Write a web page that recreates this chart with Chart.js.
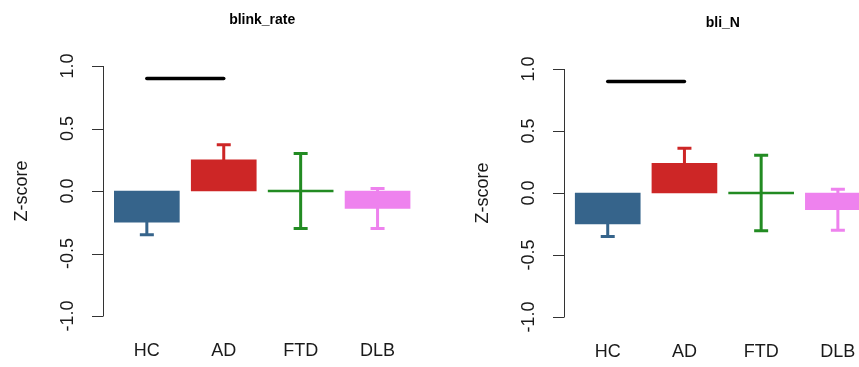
<!DOCTYPE html>
<html>
<head>
<meta charset="utf-8">
<script src="https://cdn.jsdelivr.net/npm/chart.js@4.4.1/dist/chart.umd.min.js"></script>
<style>
    html, body { margin: 0; padding: 0; background: #ffffff; }
    body { width: 859px; height: 367px; overflow: hidden; position: relative; }
    canvas { position: absolute; top: 0; }
</style>
</head>
<body>
<canvas id="leftChart" width="430" height="367" style="left:0px"></canvas>
<canvas id="rightChart" width="460" height="367" style="left:430px"></canvas>
<script>
// Groups along the x axis
const categories = ['HC', 'AD', 'FTD', 'DLB'];
const barColors = ['#36648B', '#CD2626', '#228B22', '#EE82EE'];

// blink_rate panel: mean z-score and standard error
const blinkMeans = [-0.25, 0.25, 0.00, -0.14];
const blinkErrors = [0.10, 0.12, 0.30, 0.16];

// bli_N panel
const bliMeans = [-0.25, 0.24, 0.00, -0.135];
const bliErrors = [0.10, 0.12, 0.305, 0.165];

// significance bar between HC and AD
const sigPair = ['HC', 'AD'];
const sigLevel = 0.9;

// y axis ticks
const yTicks = [-1.0, -0.5, 0.0, 0.5, 1.0];
const yTickLabels = ['-1.0', '-0.5', '0.0', '0.5', '1.0'];

const FONT = 'Liberation Sans, Arial, Helvetica, sans-serif';

// R-like decorations: axis, labels, title, error bars, significance line
const rStylePlugin = {
    id: 'rStyle',
    beforeDatasetsDraw(chart) {
        const ctx = chart.ctx;
        const x = chart.scales.x, y = chart.scales.y;
        const ds = chart.data.datasets[0];
        ctx.save();
        ctx.lineWidth = 3;
        ctx.lineCap = 'butt';
        ds.data.forEach((pt, i) => {
            const err = ds.errors[i];
            const cx = x.getPixelForValue(pt.x);
            const yHi = y.getPixelForValue(pt.y + err);
            const yLo = y.getPixelForValue(pt.y - err);
            ctx.strokeStyle = barColors[i];
            ctx.beginPath();
            ctx.moveTo(cx, yHi);
            ctx.lineTo(cx, yLo);
            ctx.moveTo(cx - 7, yHi);
            ctx.lineTo(cx + 7, yHi);
            ctx.moveTo(cx - 7, yLo);
            ctx.lineTo(cx + 7, yLo);
            ctx.stroke();
        });
        ctx.restore();
    },
    afterDatasetsDraw(chart) {
        const ctx = chart.ctx;
        const x = chart.scales.x, y = chart.scales.y;
        const area = chart.chartArea;
        const axisX = area.left;
        ctx.save();

        // y axis line and outward ticks
        ctx.strokeStyle = '#333333';
        ctx.lineWidth = 1;
        ctx.beginPath();
        ctx.moveTo(axisX + 0.5, y.getPixelForValue(yTicks[0]));
        ctx.lineTo(axisX + 0.5, y.getPixelForValue(yTicks[yTicks.length - 1]));
        yTicks.forEach(v => {
            const py = Math.round(y.getPixelForValue(v)) + 0.5;
            ctx.moveTo(axisX + 0.5, py);
            ctx.lineTo(axisX - 11, py);
        });
        ctx.stroke();

        // rotated tick labels
        ctx.fillStyle = '#1a1a1a';
        ctx.font = '18px ' + FONT;
        ctx.textAlign = 'center';
        ctx.textBaseline = 'middle';
        yTicks.forEach((v, i) => {
            ctx.save();
            ctx.translate(axisX - 35, y.getPixelForValue(v));
            ctx.rotate(-Math.PI / 2);
            ctx.fillText(yTickLabels[i], 0, 0);
            ctx.restore();
        });

        // axis title
        ctx.save();
        ctx.translate(axisX - 81, (area.top + area.bottom) / 2);
        ctx.rotate(-Math.PI / 2);
        ctx.fillText('Z-score', 0, 0);
        ctx.restore();

        // category names
        categories.forEach((c, i) => {
            ctx.fillText(c, x.getPixelForValue(i), area.bottom + 35.5);
        });

        // panel title
        ctx.font = 'bold 14px ' + FONT;
        ctx.fillStyle = '#000000';
        ctx.fillText(chart.options.panelTitle, (area.left + area.right) / 2, area.top - 46);

        // significance line
        const x1 = x.getPixelForValue(categories.indexOf(sigPair[0]));
        const x2 = x.getPixelForValue(categories.indexOf(sigPair[1]));
        const sy = y.getPixelForValue(sigLevel);
        ctx.strokeStyle = '#000000';
        ctx.lineWidth = 3.5;
        ctx.lineCap = 'round';
        ctx.beginPath();
        ctx.moveTo(x1, sy);
        ctx.lineTo(x2, sy);
        ctx.stroke();

        ctx.restore();
    }
};

function makePanel(canvasId, title, means, errors, pad) {
    const ctx = document.getElementById(canvasId).getContext('2d');
    return new Chart(ctx, {
        type: 'bar',
        data: {
            datasets: [{
                data: means.map((v, i) => ({ x: i, y: v })),
                errors: errors,
                backgroundColor: barColors,
                borderColor: barColors,
                borderWidth: 0,
                minBarLength: 2,
                barThickness: 65
            }]
        },
        options: {
            panelTitle: title,
            responsive: false,
            animation: false,
            events: [],
            layout: { padding: pad },
            plugins: {
                legend: { display: false },
                tooltip: { enabled: false },
                title: { display: false }
            },
            scales: {
                x: { type: 'linear', min: -0.57, max: 3.57, offset: false, display: false },
                y: { type: 'linear', min: -1, max: 1, display: false }
            }
        },
        plugins: [rStylePlugin]
    });
}

makePanel('leftChart', 'blink_rate', blinkMeans, blinkErrors,
    { left: 103, right: 8.6, top: 66, bottom: 51 });
makePanel('rightChart', 'bli_N', bliMeans, bliErrors,
    { left: 134, right: 8.4, top: 69, bottom: 50 });
</script>
</body>
</html>
